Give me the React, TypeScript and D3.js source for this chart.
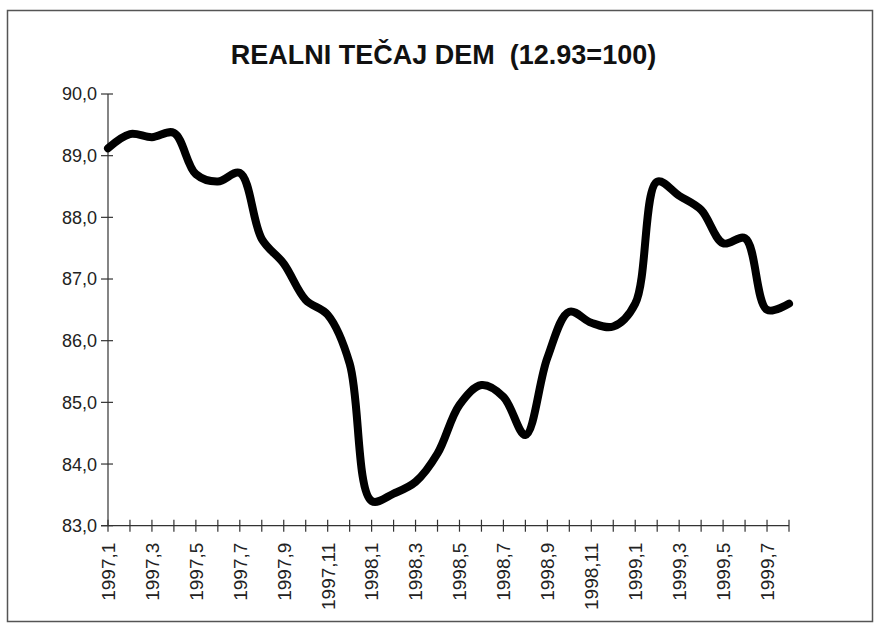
import React from "react";
import * as d3 from "d3";

const months: string[] = [
  "1997,1", "1997,2", "1997,3", "1997,4", "1997,5", "1997,6", "1997,7", "1997,8",
  "1997,9", "1997,10", "1997,11", "1997,12", "1998,1", "1998,2", "1998,3", "1998,4",
  "1998,5", "1998,6", "1998,7", "1998,8", "1998,9", "1998,10", "1998,11", "1998,12",
  "1999,1", "1999,2", "1999,3", "1999,4", "1999,5", "1999,6", "1999,7", "1999,8",
];

const values: number[] = [
  89.12, 89.35, 89.3, 89.37, 88.7, 88.58, 88.72, 87.65,
  87.25, 86.66, 86.42, 85.63, 83.4, 83.52, 83.71, 84.17,
  84.96, 85.28, 85.09, 84.47, 85.72, 86.47, 86.29, 86.23,
  86.6, 88.58, 88.35, 88.12, 87.58, 87.66, 86.5, 86.6,
];

const yTicks: number[] = [83, 84, 85, 86, 87, 88, 89, 90];

const title = "REALNI TEČAJ DEM  (12.93=100)";

export default function App() {
  const W = 875;
  const H = 629;
  const left = 108;
  const right = 789;
  const top = 94;
  const bottom = 525.7;

  const x = d3.scaleLinear().domain([0, months.length - 1]).range([left, right]);
  const y = d3.scaleLinear().domain([83, 90]).range([bottom, top]);

  const line = d3
    .line<number>()
    .x((_, i) => x(i))
    .y((d) => y(d))
    .curve(d3.curveCatmullRom.alpha(0.5));

  const fmt = (v: number) => v.toFixed(1).replace(".", ",");
  const font = "'Liberation Sans', Arial, sans-serif";

  return (
    <svg
      width={W}
      height={H}
      style={{ position: "absolute", left: 0, top: 0, background: "#fff" }}
    >
      <rect x={0} y={0} width={W} height={H} fill="#fff" />
      <rect x={7.5} y={10.5} width={865} height={611} fill="none" stroke="#555" strokeWidth={1.5} />
      <text
        x={443.5}
        y={64}
        textAnchor="middle"
        fontFamily={font}
        fontWeight="bold"
        fontSize={27}
        style={{ whiteSpace: "pre" }}
        fill="#111"
      >
        {title}
      </text>

      {/* Y axis */}
      <line x1={left} y1={top} x2={left} y2={bottom} stroke="#333" strokeWidth={1.2} />
      {yTicks.map((t) => (
        <g key={t}>
          <line x1={left - 7} x2={left + 5} y1={y(t)} y2={y(t)} stroke="#333" strokeWidth={1.2} />
          <text
            x={97}
            y={y(t)}
            dy="0.36em"
            textAnchor="end"
            fontFamily={font}
            fontSize={18}
            fill="#222"
          >
            {fmt(t)}
          </text>
        </g>
      ))}

      {/* X axis */}
      <line x1={left - 7} y1={bottom} x2={right} y2={bottom} stroke="#333" strokeWidth={1.2} />
      {months.map((m, i) => (
        <g key={m}>
          <line x1={x(i)} x2={x(i)} y1={bottom - 6} y2={bottom + 6} stroke="#333" strokeWidth={1.2} />
          {i % 2 === 0 ? (
            <text
              transform={`translate(${x(i)},${bottom + 17}) rotate(-90)`}
              dy="0.36em"
              textAnchor="end"
              fontFamily={font}
              fontSize={19}
              fill="#222"
            >
              {m}
            </text>
          ) : null}
        </g>
      ))}

      <path
        d={line(values) || ""}
        fill="none"
        stroke="#000"
        strokeWidth={8}
        strokeLinejoin="round"
        strokeLinecap="round"
      />
    </svg>
  );
}
